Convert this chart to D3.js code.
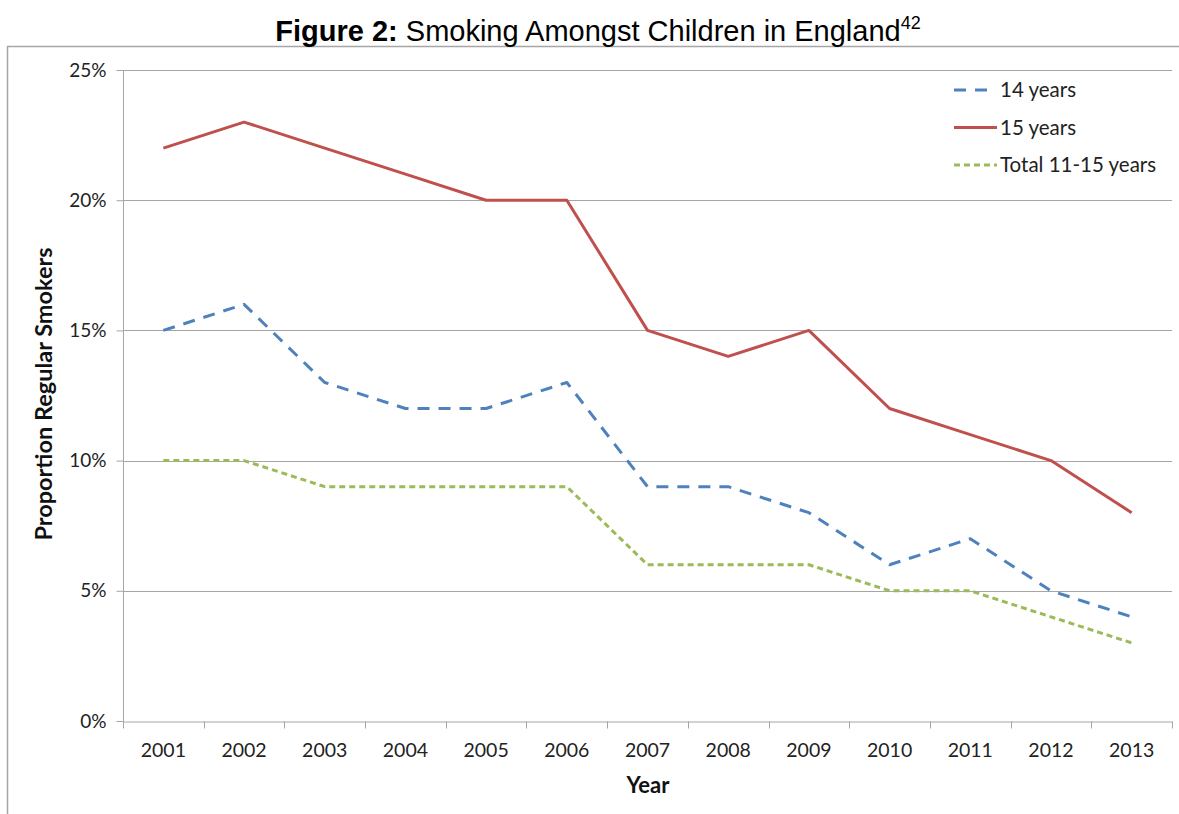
<!DOCTYPE html>
<html>
<head>
<meta charset="utf-8">
<script src="https://cdnjs.cloudflare.com/ajax/libs/d3/7.8.5/d3.min.js"></script>
<style>
  body { margin: 0; background: #fff; }
  svg { display: block; }
</style>
</head>
<body>
<div id="chart"></div>
<script>
// data
const years = ["2001","2002","2003","2004","2005","2006","2007","2008","2009","2010","2011","2012","2013"];
const age14 = [15, 16, 13, 12, 12, 13, 9, 9, 8, 6, 7, 5, 4];
const age15 = [22, 23, 22, 21, 20, 20, 15, 14, 15, 12, 11, 10, 8];
const total11to15 = [10, 10, 9, 9, 9, 9, 6, 6, 6, 5, 5, 4, 3];
const yTicks = [0, 5, 10, 15, 20, 25];

const series = [
    {name: "14 years", values: age14, color: "#4F81BD", dash: "12,9"},
    {name: "15 years", values: age15, color: "#C0504D", dash: null},
    {name: "Total 11-15 years", values: total11to15, color: "#9BBB59", dash: "6,4"}
];

const W = 1179, H = 814;
const margin = {top: 70, right: 7, bottom: 93, left: 123};
const width = W - margin.left - margin.right;
const height = H - margin.top - margin.bottom;
const font = "Lato, Open Sans, sans-serif";

const svg = d3.select("#chart").append("svg")
    .attr("width", W)
    .attr("height", H);

// chart border (cropped figure frame)
svg.append("path")
    .attr("d", "M7.5," + H + "V46.5H" + W)
    .attr("fill", "none")
    .attr("stroke", "#a6a6a6")
    .attr("stroke-width", 1.5);

// title
const title = svg.append("text")
    .attr("x", 598)
    .attr("y", 41)
    .attr("text-anchor", "middle")
    .attr("font-family", "Liberation Sans, Arial, sans-serif")
    .attr("font-size", "29px")
    .attr("fill", "#000");
title.append("tspan").attr("font-weight", "bold").text("Figure 2:");
title.append("tspan").text(" Smoking Amongst Children in England");
title.append("tspan").attr("font-size", "18px").attr("dy", -12).text("42");

const g = svg.append("g")
    .attr("transform", "translate(" + margin.left + "," + margin.top + ")");

const x = d3.scaleBand().domain(years).range([0, width]);
const y = d3.scaleLinear().domain([0, 25]).range([height, 0]);

// gridlines
g.append("g")
    .selectAll("line")
    .data(yTicks.filter(d => d > 0))
    .join("line")
    .attr("x1", 0)
    .attr("x2", width)
    .attr("y1", d => Math.round(y(d)) + 0.5)
    .attr("y2", d => Math.round(y(d)) + 0.5)
    .attr("stroke", "#a6a6a6")
    .attr("stroke-width", 1);

// y axis
const yAxis = g.append("g")
    .attr("transform", "translate(0.5,0)")
    .call(d3.axisLeft(y).tickValues(yTicks).tickSize(7).tickPadding(10).tickFormat(d => d + "%"));
yAxis.select(".domain").attr("stroke", "#a6a6a6").attr("d", "M0,0V" + height);
yAxis.selectAll(".tick line").attr("stroke", "#a6a6a6");
yAxis.selectAll(".tick text")
    .attr("font-family", font)
    .attr("font-size", "19px")
    .attr("fill", "#222");

// x axis, ticks on category boundaries
const xAxis = g.append("g")
    .attr("transform", "translate(0," + (Math.round(height) + 0.5) + ")")
    .call(d3.axisBottom(x).tickSize(0).tickPadding(22));
xAxis.select(".domain").attr("stroke", "#a6a6a6");
xAxis.selectAll(".tick text")
    .attr("font-family", font)
    .attr("font-size", "19.5px")
    .attr("fill", "#222");
xAxis.selectAll(".bound")
    .data(d3.range(years.length + 1))
    .join("line")
    .attr("class", "bound")
    .attr("x1", i => Math.round(i * x.step()) + 0.5)
    .attr("x2", i => Math.round(i * x.step()) + 0.5)
    .attr("y1", 0)
    .attr("y2", 7)
    .attr("stroke", "#a6a6a6");

// axis titles
svg.append("text")
    .attr("transform", "translate(52," + 394 + ") rotate(-90)")
    .attr("text-anchor", "middle")
    .attr("font-family", font)
    .attr("font-weight", "bold")
    .attr("font-size", "23.5px")
    .attr("fill", "#111")
    .text("Proportion Regular Smokers");

svg.append("text")
    .attr("x", 648)
    .attr("y", 793)
    .attr("text-anchor", "middle")
    .attr("font-family", font)
    .attr("font-weight", "bold")
    .attr("font-size", "22px")
    .attr("fill", "#111")
    .text("Year");

// lines
const line = d3.line()
    .x((d, i) => x(years[i]) + x.bandwidth() / 2)
    .y(d => y(d));

g.selectAll(".series")
    .data(series)
    .join("path")
    .attr("class", "series")
    .attr("d", d => line(d.values))
    .attr("fill", "none")
    .attr("stroke", d => d.color)
    .attr("stroke-width", 3)
    .attr("stroke-linejoin", "round")
    .attr("stroke-dasharray", d => d.dash);

// legend
const legend = svg.append("g")
    .attr("transform", "translate(954,90)");
const item = legend.selectAll("g")
    .data(series)
    .join("g")
    .attr("transform", (d, i) => "translate(0," + (i * 37.5) + ")");
item.append("line")
    .attr("x1", 0)
    .attr("x2", d => d.dash === "12,9" ? 33 : 43)
    .attr("stroke", d => d.color)
    .attr("stroke-width", 3)
    .attr("stroke-dasharray", d => d.dash);
item.append("text")
    .attr("x", 46)
    .attr("dy", "0.36em")
    .attr("font-family", font)
    .attr("font-size", "20.5px")
    .attr("fill", "#222")
    .text(d => d.name);
</script>
</body>
</html>
